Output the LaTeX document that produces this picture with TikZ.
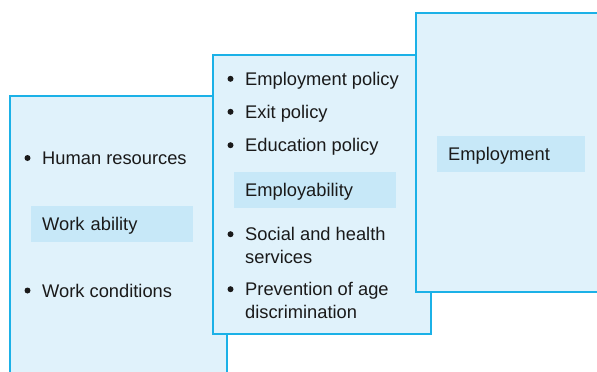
\documentclass[tikz,border=0pt]{standalone}
\usepackage{fontspec}
\setmainfont{Liberation Sans}
\definecolor{boxline}{RGB}{27,177,231}
\definecolor{boxfill}{RGB}{224,242,251}
\definecolor{tagfill}{RGB}{199,232,248}
\definecolor{ink}{RGB}{26,26,26}
\begin{document}
\begin{tikzpicture}[x=1pt,y=-1pt]
      \tikzstyle{every node}=[inner sep=0pt,anchor=base west,text=ink,align=left,
                            font=\fontsize{18.3}{22.6}\selectfont]
      \tikzstyle{panel}=[draw=boxline,fill=boxfill,line width=1.5pt]
      \tikzstyle{tag}=[fill=tagfill,anchor=west,minimum width=162pt,
                       minimum height=36pt,inner xsep=11pt,text width=140pt,
                       text height=13pt,text depth=0pt]
      \tikzstyle{dot}=[fill=ink,circle,anchor=center,minimum size=6pt]
      \clip (0,0) rectangle (597,372);

      % three panels, the later one lies on top
      \draw[panel] (10,96) rectangle (227,390);
      \draw[panel] (213,55) rectangle (431,334);
      \draw[panel] (416,13) rectangle (610,292);

      % left panel
      \node (hr) at (42,164.5) {Human resources};
      \node[tag] (wa) at (31,224) {Work ability};
      \node (wc) at (42,297) {Work conditions};

      % middle panel
      \node (ep) at (245,85.3) {Employment policy};
      \node (xp) at (245,118.3) {Exit policy};
      \node (dp) at (245,151.7) {Education policy};
      \node[tag] (em) at (234,190) {Employability};
      \node (sh) at (245,263.3) {Social and health\\services};
      \node (pa) at (245,318.3) {Prevention of age\\discrimination};

      % right panel
      \node[tag,minimum width=148pt,text width=126pt] (jb) at (437,154) {Employment};

      \foreach \t in {hr,wc,ep,xp,dp}
        \node[dot] (b-\t) at ([xshift=-14.5pt,yshift=6.5pt]\t.base west) {};
      % two-line items: the base is the second line
      \foreach \t in {sh,pa}
        \node[dot] (b-\t) at ([xshift=-14.5pt,yshift=29.1pt]\t.base west) {};
\end{tikzpicture}
\end{document}
